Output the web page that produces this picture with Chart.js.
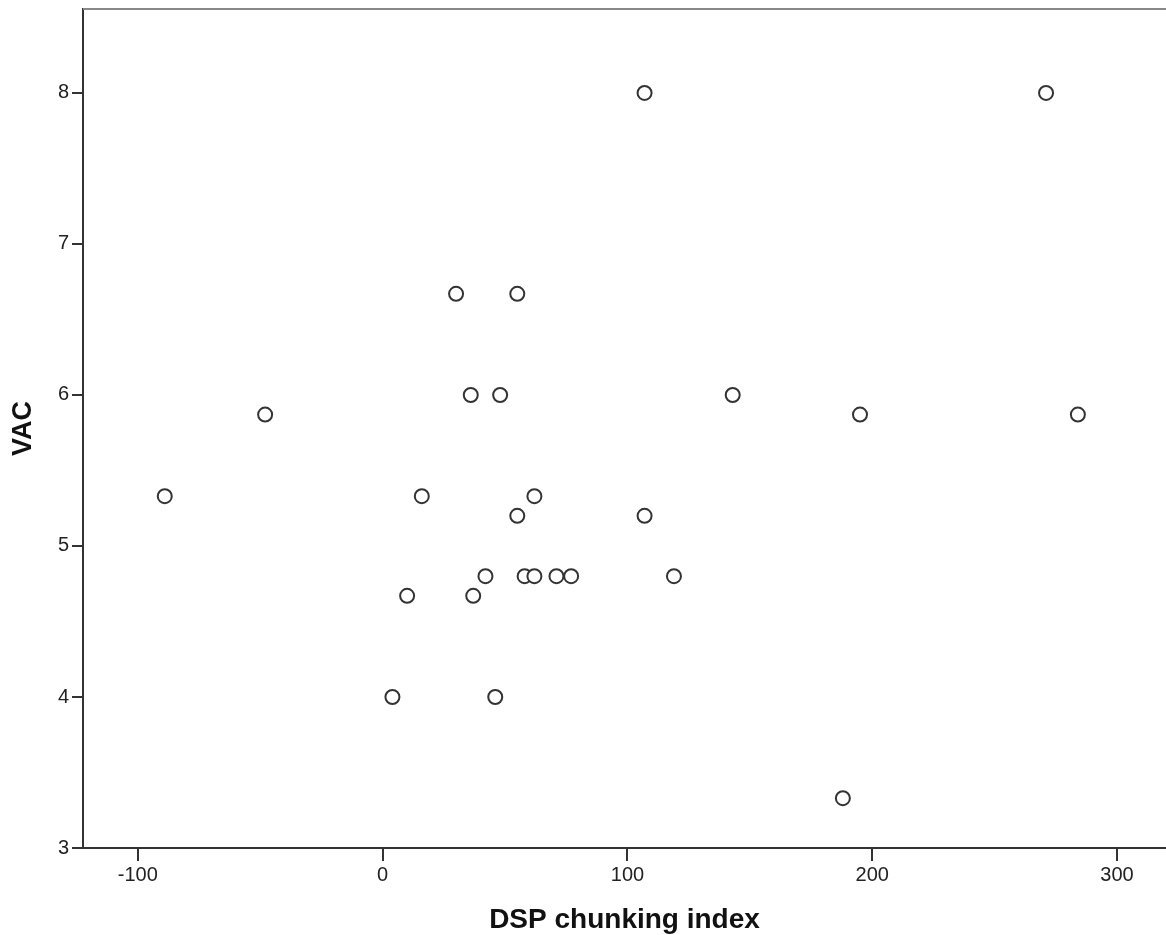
<!DOCTYPE html>
<html>
<head>
<meta charset="utf-8">
<script src="https://cdn.jsdelivr.net/npm/chart.js@4/dist/chart.umd.min.js"></script>
<style>
  html, body { margin: 0; padding: 0; background: #fff; overflow: hidden; }
  canvas { display: block; }
</style>
</head>
<body>
<canvas id="myChart" width="1166" height="935"></canvas>
<script>
// DSP chunking index (x) vs VAC (y)
const dspIndex = [107, 271, 30, 55, 36, 48, 143, -48, 195, 284, -89, 16, 62, 55, 107,
                  42, 58, 62, 71, 77, 119, 10, 37, 4, 46, 188];
const vacValues = [8, 8, 6.67, 6.67, 6, 6, 6, 5.87, 5.87, 5.87, 5.33, 5.33, 5.33, 5.2, 5.2,
                   4.8, 4.8, 4.8, 4.8, 4.8, 4.8, 4.67, 4.67, 4, 4, 3.33];
const xTicks = [-100, 0, 100, 200, 300];
const yTicks = [3, 4, 5, 6, 7, 8];

const points = dspIndex.map((x, i) => ({ x: x, y: vacValues[i] }));

// top frame line
const topLine = {
  id: "topLine",
  afterDraw(chart) {
    const a = chart.chartArea;
    const ctx = chart.ctx;
    ctx.save();
    ctx.strokeStyle = "#888";
    ctx.lineWidth = 2;
    ctx.beginPath();
    ctx.moveTo(a.left, a.top);
    ctx.lineTo(a.right, a.top);
    ctx.stroke();
    ctx.restore();
  }
};

new Chart("myChart", {
  type: "scatter",
  data: {
    datasets: [{
      data: points,
      pointStyle: "circle",
      pointRadius: 7,
      pointHoverRadius: 7,
      pointBorderWidth: 2,
      borderColor: "#333",
      backgroundColor: "#fff"
    }]
  },
  options: {
    responsive: false,
    animation: false,
    layout: { autoPadding: false, padding: { top: 9, right: 0, left: 0, bottom: 0 } },
    plugins: { legend: { display: false }, tooltip: { enabled: false } },
    scales: {
      x: {
        type: "linear",
        min: -122.4,
        max: 320,
        afterFit(s) { s.height = 87; s.paddingLeft = 0; s.paddingRight = 0; },
        afterBuildTicks(s) { s.ticks = xTicks.map(v => ({ value: v })); },
        border: { display: true, color: "#333", width: 2 },
        grid: { drawOnChartArea: false, drawTicks: true, tickLength: 13, color: "#333", lineWidth: 2 },
        ticks: { color: "#222", padding: 2, font: { family: "Liberation Sans, Arial", size: 20 } },
        title: {
          display: true,
          text: "DSP chunking index",
          color: "#111",
          padding: { top: 0, bottom: 1 },
          font: { family: "Liberation Sans, Arial", size: 28, weight: "bold", lineHeight: 1 }
        }
      },
      y: {
        type: "linear",
        min: 3,
        max: 8.556,
        afterFit(s) { s.width = 83; s.paddingTop = 0; s.paddingBottom = 0; },
        afterBuildTicks(s) { s.ticks = yTicks.map(v => ({ value: v })); },
        border: { display: true, color: "#333", width: 2 },
        grid: { drawOnChartArea: false, drawTicks: true, tickLength: 11, color: "#333", lineWidth: 2 },
        ticks: { color: "#222", padding: 3, font: { family: "Liberation Sans, Arial", size: 20 } },
        title: {
          display: true,
          text: "VAC",
          color: "#111",
          padding: { top: 10.5, bottom: 0 },
          font: { family: "Liberation Sans, Arial", size: 27, weight: "bold", lineHeight: 1 }
        }
      }
    }
  },
  plugins: [topLine]
});
</script>
</body>
</html>
